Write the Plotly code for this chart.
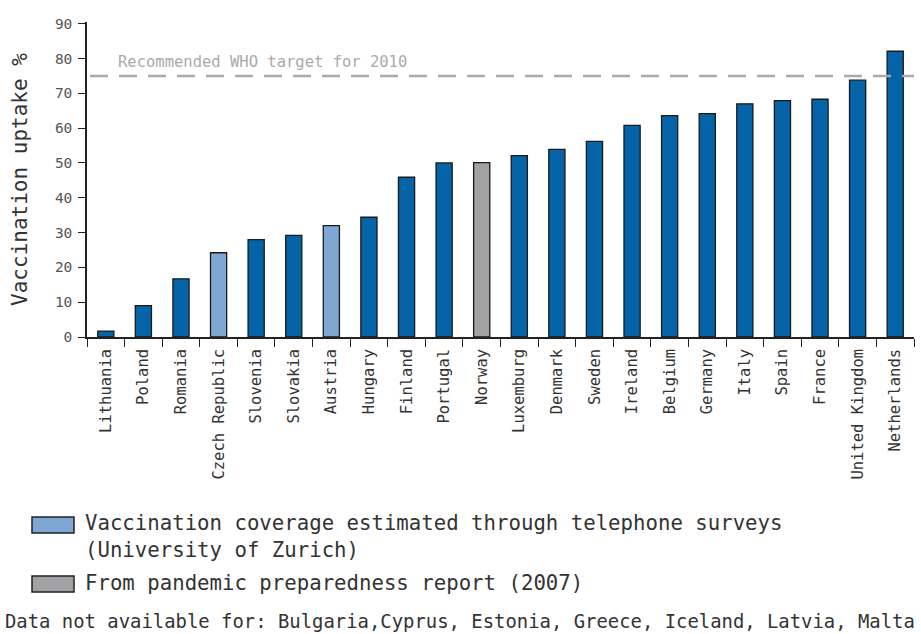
import plotly.graph_objects as go

countries = ["Lithuania", "Poland", "Romania", "Czech Republic", "Slovenia", "Slovakia",
             "Austria", "Hungary", "Finland", "Portugal", "Norway", "Luxemburg", "Denmark",
             "Sweden", "Ireland", "Belgium", "Germany", "Italy", "Spain", "France",
             "United Kingdom", "Netherlands"]
uptake = [1.7, 9, 16.7, 24.2, 28, 29.2, 32, 34.4, 45.9, 50, 50.1, 52.1, 53.9, 56.2,
          60.8, 63.6, 64.2, 67, 67.9, 68.3, 73.8, 82.1]
source = ["main", "main", "main", "phone", "main", "main", "phone", "main", "main", "main",
          "report", "main", "main", "main", "main", "main", "main", "main", "main", "main",
          "main", "main"]
who_target = 75
who_label = "Recommended WHO target for 2010"
legend_phone = "Vaccination coverage estimated through telephone surveys<br>(University of Zurich)"
legend_report = "From pandemic preparedness report (2007)"
note_text = "Data not available for: Bulgaria,Cyprus, Estonia, Greece, Iceland, Latvia, Malta"
y_title = "Vaccination uptake %"

colors = {"main": "#0563a8", "phone": "#7fa7d4", "report": "#a2a2a4"}
FONT = "DejaVu Sans Mono"
TXT = "#333333"

W, H = 921, 634
L, R, T, B = 87, 7, 22, 297
pw, ph = W - L - R, H - T - B


def px2x(px):
    return (px - L) / pw


def py2y(py):
    return (H - B - py) / ph


fig = go.Figure()
for key in ["main", "phone", "report"]:
    xs = [c for c, s in zip(countries, source) if s == key]
    ys = [v for v, s in zip(uptake, source) if s == key]
    fig.add_trace(go.Bar(x=xs, y=ys, marker=dict(color=colors[key],
                                                   line=dict(color="#1a1a1a", width=1.3)),
                         showlegend=False))

fig.update_layout(
    width=W, height=H,
    margin=dict(l=L, r=R, t=T, b=B),
    plot_bgcolor="white", paper_bgcolor="white",
    barmode="overlay", bargap=0.57,
    font=dict(family=FONT, color=TXT),
    xaxis=dict(categoryorder="array", categoryarray=countries, tickson="boundaries",
               ticks="outside", ticklen=8, tickcolor="#222", showline=True,
               linecolor="#222", linewidth=1.5, tickangle=-90, ticklabelstandoff=4,
               tickfont=dict(family=FONT, size=15.5, color=TXT), showgrid=False),
    yaxis=dict(range=[0, 90.5], dtick=10, tick0=0, ticks="outside", ticklen=7,
               tickcolor="#222", showline=True, linecolor="#222", linewidth=1.5,
               showgrid=False, zeroline=False, ticklabelstandoff=3,
               tickfont=dict(family=FONT, size=14.5, color="#555"),
               title=dict(text=y_title, font=dict(family=FONT, size=21, color=TXT),
                          standoff=22)),
)

fig.add_shape(type="line", xref="paper", yref="y", x0=px2x(90), x1=1,
              y0=who_target, y1=who_target,
              line=dict(color="#aaaaaa", width=2.5, dash="18px,11px"))
fig.add_annotation(xref="paper", yref="y", x=px2x(116), y=79, text=who_label,
                   showarrow=False, xanchor="left", yanchor="middle",
                   font=dict(family=FONT, size=15.5, color="#aaaaaa"))

# legend
for (y0, y1, key) in [(517, 533, "phone"), (576, 592, "report")]:
    fig.add_shape(type="rect", xref="paper", yref="paper",
                  x0=px2x(32), x1=px2x(74), y0=py2y(y1), y1=py2y(y0),
                  fillcolor=colors[key], line=dict(color="#222", width=1.5))
fig.add_annotation(xref="paper", yref="paper", x=px2x(83), y=py2y(509),
                   text=legend_phone, showarrow=False, xanchor="left", yanchor="top",
                   align="left", font=dict(family=FONT, size=20.7, color=TXT))
fig.add_annotation(xref="paper", yref="paper", x=px2x(83), y=py2y(583),
                   text=legend_report, showarrow=False, xanchor="left", yanchor="middle",
                   align="left", font=dict(family=FONT, size=20.7, color=TXT))
fig.add_annotation(xref="paper", yref="paper", x=px2x(3), y=py2y(621),
                   text=note_text, showarrow=False, xanchor="left", yanchor="middle",
                   align="left", font=dict(family=FONT, size=18.9, color=TXT))

fig.write_html("out.html", config={"displayModeBar": False},
               post_script="document.body.style.margin='0';document.body.style.overflow='hidden';")
